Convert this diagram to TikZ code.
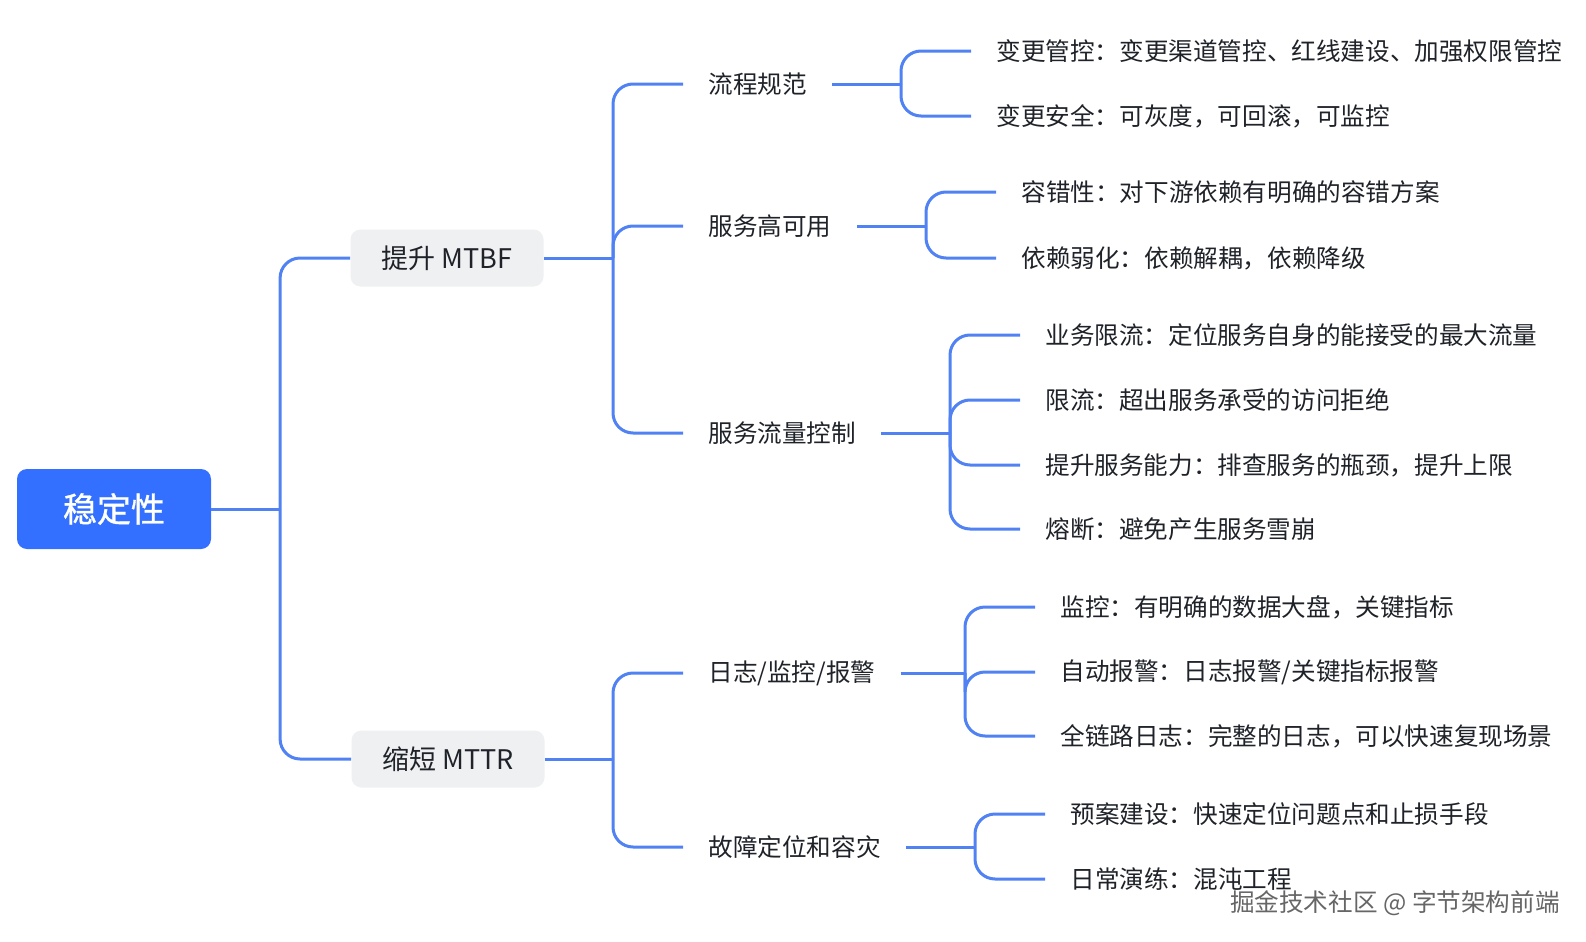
\documentclass[tikz,border=0pt]{standalone}
\usepackage{fontspec}
\setmainfont{Noto Sans CJK SC}
\newfontfamily\rootfont{Noto Sans CJK SC}[FakeBold=1]
\usetikzlibrary{positioning,calc}
\definecolor{mmBlue}{HTML}{3370FF}
\definecolor{mmLine}{HTML}{5082F4}
\definecolor{mmGrey}{HTML}{EFF0F1}
\definecolor{mmText}{HTML}{1F2329}

\begin{document}
\begin{tikzpicture}[x=0.5pt,y=-0.5pt,
  every node/.style={text=mmText},
  rootbox/.style={fill=mmBlue,rounded corners=5pt,minimum width=97pt,minimum height=40pt,text=white,font=\fontsize{17pt}{20pt}\rootfont},
  topicbox/.style={fill=mmGrey,rounded corners=5pt,minimum width=96.5pt,minimum height=28.5pt,font=\fontsize{13.5pt}{16pt}\selectfont},
  leaf/.style={anchor=west,inner xsep=12.5pt,inner ysep=2pt,font=\fontsize{12.3pt}{14pt}\selectfont},
  link/.style={draw=mmLine,line width=1.5pt,rounded corners=10pt}]
  \useasboundingbox[fill=white] (0,0) rectangle (1586,942);

  % root and main branches
  \node[rootbox] (root) at (114,509) {稳定性};
  \node[topicbox] (mtbf) at (447,258) {提升 MTBF};
  \node[topicbox] (mttr) at (448,759) {缩短 MTTR};

  \node[leaf] (flow) at (683,84) {流程规范};
  \node[leaf] (avail) at (683,226) {服务高可用};
  \node[leaf] (traffic) at (683,433) {服务流量控制};
  \node[leaf] (obs) at (683,673) {日志/监控/报警};
  \node[leaf] (recover) at (683,847) {故障定位和容灾};

  \node[leaf] (change) at (971,51) {变更管控：变更渠道管控、红线建设、加强权限管控};
  \node[leaf] (safe) at (971,116) {变更安全：可灰度，可回滚，可监控};
  \node[leaf] (fault) at (996,192) {容错性：对下游依赖有明确的容错方案};
  \node[leaf] (weak) at (996,258) {依赖弱化：依赖解耦，依赖降级};
  \node[leaf] (biz) at (1020,335) {业务限流：定位服务自身的能接受的最大流量};
  \node[leaf] (limit) at (1020,400) {限流：超出服务承受的访问拒绝};
  \node[leaf] (cap) at (1020,465) {提升服务能力：排查服务的瓶颈，提升上限};
  \node[leaf] (fuse) at (1020,529) {熔断：避免产生服务雪崩};
  \node[leaf] (watch) at (1035,607) {监控：有明确的数据大盘，关键指标};
  \node[leaf] (alarm) at (1035,672) {自动报警：日志报警/关键指标报警};
  \node[leaf] (trace) at (1035,736) {全链路日志：完整的日志，可以快速复现场景};
  \node[leaf] (plan) at (1045,814) {预案建设：快速定位问题点和止损手段};
  \node[leaf] (drill) at (1045,879) {日常演练：混沌工程};

  \node[anchor=east,inner sep=0pt,text=black!60,font=\fontsize{12.3pt}{14pt}\selectfont] (credit) at (1560,903) {掘金技术社区 @ 字节架构前端};

  % forks
  \coordinate (rootfork) at ([xshift=-35pt]mtbf.west |- root.east);
  \coordinate (mtbffork) at ([xshift=-35pt]flow.west |- mtbf.east);
  \coordinate (mttrfork) at ([xshift=-35pt]obs.west |- mttr.east);
  \coordinate (flowfork) at ([xshift=-35pt]change.west |- flow.east);
  \coordinate (availfork) at ([xshift=-35pt]fault.west |- avail.east);
  \coordinate (trafficfork) at ([xshift=-35pt]biz.west |- traffic.east);
  \coordinate (obsfork) at ([xshift=-35pt]watch.west |- obs.east);
  \coordinate (recoverfork) at ([xshift=-35pt]plan.west |- recover.east);

  % connectors
  \draw[link] (root.east) -- (rootfork);
  \foreach \kid in {mtbf,mttr} \draw[link] (rootfork) |- (\kid.west);
  \draw[link] (mtbf.east) -- (mtbffork);
  \foreach \kid in {flow,avail,traffic} \draw[link] (mtbffork) |- (\kid.west);
  \draw[link] (mttr.east) -- (mttrfork);
  \foreach \kid in {obs,recover} \draw[link] (mttrfork) |- (\kid.west);
  \draw[link] (flow.east) -- (flowfork);
  \foreach \kid in {change,safe} \draw[link] (flowfork) |- (\kid.west);
  \draw[link] (avail.east) -- (availfork);
  \foreach \kid in {fault,weak} \draw[link] (availfork) |- (\kid.west);
  \draw[link] (traffic.east) -- (trafficfork);
  \foreach \kid in {biz,limit,cap,fuse} \draw[link] (trafficfork) |- (\kid.west);
  \draw[link] (obs.east) -- (obsfork);
  \foreach \kid in {watch,alarm,trace} \draw[link] (obsfork) |- (\kid.west);
  \draw[link] (recover.east) -- (recoverfork);
  \foreach \kid in {plan,drill} \draw[link] (recoverfork) |- (\kid.west);
\end{tikzpicture}
\end{document}
